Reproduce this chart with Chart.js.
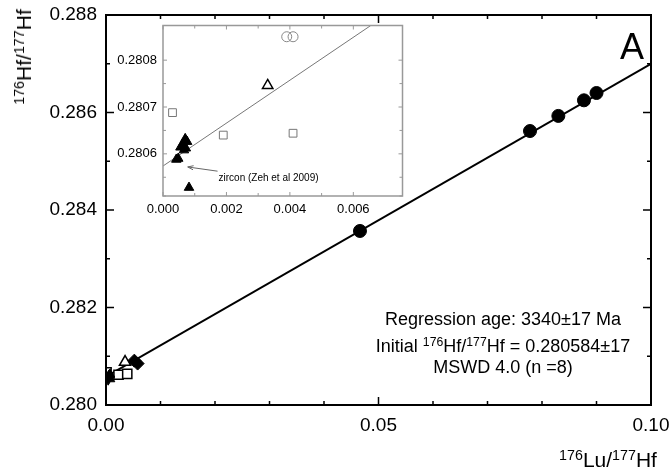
<!DOCTYPE html>
<html>
<head>
<meta charset="utf-8">
<script src="https://cdn.jsdelivr.net/npm/chart.js@4.4.1/dist/chart.umd.min.js"></script>
<style>
  html, body { margin: 0; padding: 0; background: #fff; }
  #wrap { position: relative; width: 669px; height: 475px; overflow: hidden;
          font-family: "Liberation Sans", Arial, sans-serif; color: #000; }
  #main { position: absolute; left: 0; top: 0; }
  #inset { position: absolute; left: 110px; top: 18px; }
  .lbl { position: absolute; white-space: nowrap; transform: translate(-50%, -50%); }
  .sup { position: relative; top: -0.5em; font-size: 0.68em; }
</style>
</head>
<body>
<div id="wrap">
  <canvas id="main" width="669" height="475"></canvas>
  <canvas id="inset" width="300" height="210"></canvas>

  <div class="lbl" style="left:24px; top:57px; font-size:21px; transform:translate(-50%,-50%) rotate(-90deg);"><span class="sup">176</span>Hf/<span class="sup">177</span>Hf</div>
  <div class="lbl" style="left:608px; top:460px; font-size:21px;"><span class="sup">176</span>Lu/<span class="sup">177</span>Hf</div>
  <div class="lbl" style="left:632px; top:47px; font-size:36px;">A</div>

  <div class="lbl" style="left:503px; top:319px; font-size:18px;">Regression age: 3340±17 Ma</div>
  <div class="lbl" style="left:503px; top:346px; font-size:18px;">Initial <span class="sup">176</span>Hf/<span class="sup">177</span>Hf = 0.280584±17</div>
  <div class="lbl" style="left:503px; top:367px; font-size:18px;">MSWD 4.0 (n =8)</div>
</div>

<script>
// ---- main panel (176Lu/177Hf vs 176Hf/177Hf) ----
const circleLu = [0.0466, 0.0778, 0.0830, 0.0877, 0.0900];
const circleHf = [0.28357, 0.28562, 0.28593, 0.28625, 0.28640];
const diamondLu = [0.0052, 0.0058];
const diamondHf = [0.28091, 0.28085];
const openTriLu = [0.0035];
const openTriHf = [0.28088];
const openSqLu = [0.0001, 0.0023, 0.0039];
const openSqHf = [0.28067, 0.28062, 0.28064];
const downTriLu = [0.0004];
const downTriHf = [0.28054];
const regLu = [0, 0.1];
const regHf = [0.280584, 0.28700];

// ---- inset (zoom on the low Lu/Hf end) ----
const zirconLu = [0.00042, 0.00048, 0.00055, 0.00062, 0.00066, 0.00070, 0.00072, 0.00076, 0.00082];
const zirconHf = [0.280588, 0.280590, 0.280614, 0.280621, 0.280608, 0.280632, 0.280612, 0.280626, 0.280528];
const insetSqLu = [0.0003, 0.0019, 0.0041];
const insetSqHf = [0.280688, 0.280640, 0.280644];
const insetTriLu = [0.0033];
const insetTriHf = [0.280746];
const insetCircLu = [0.0039, 0.0041];
const insetCircHf = [0.280850, 0.280850];
const insetLineLu = [0, 0.00655];
const insetLineHf = [0.280574, 0.280874];

const zirconNote = 'zircon (Zeh et al 2009)';
const notePos = { x: 0.00175, y: 0.280547 };
const arrowFrom = { x: 0.00172, y: 0.280563 };
const arrowTo = { x: 0.00078, y: 0.280572 };

const pts = (xs, ys) => xs.map((x, i) => ({ x, y: ys[i] }));
const isMajor = (v, step) => Math.abs(v / step - Math.round(v / step)) < 1e-6;

Chart.defaults.font.family = '"Liberation Sans", Arial, sans-serif';
Chart.defaults.color = '#000';

// frame + tick marks pointing into the plot on all four sides
const inwardTicks = {
  id: 'inwardTicks',
  afterDraw(chart, args, opts) {
    const { ctx, chartArea: a, scales: { x, y } } = chart;
    ctx.save();
    ctx.strokeStyle = opts.color;
    ctx.lineWidth = opts.width;
    ctx.strokeRect(a.left, a.top, a.right - a.left, a.bottom - a.top);
    ctx.lineWidth = opts.tickWidth;
    ctx.beginPath();
    x.ticks.forEach(t => {
      const px = x.getPixelForValue(t.value);
      const len = t.label !== '' ? opts.major : opts.minor;
      ctx.moveTo(px, a.bottom); ctx.lineTo(px, a.bottom - len);
      ctx.moveTo(px, a.top); ctx.lineTo(px, a.top + len);
    });
    y.ticks.forEach(t => {
      const py = y.getPixelForValue(t.value);
      const len = t.label !== '' ? opts.major : opts.minor;
      ctx.moveTo(a.left, py); ctx.lineTo(a.left + len, py);
      ctx.moveTo(a.right, py); ctx.lineTo(a.right - len, py);
    });
    ctx.stroke();
    ctx.restore();
  }
};

const zirconLabel = {
  id: 'zirconLabel',
  afterDatasetsDraw(chart) {
    const { ctx, scales: { x, y } } = chart;
    const x1 = x.getPixelForValue(arrowFrom.x), y1 = y.getPixelForValue(arrowFrom.y);
    const x2 = x.getPixelForValue(arrowTo.x), y2 = y.getPixelForValue(arrowTo.y);
    ctx.save();
    ctx.strokeStyle = '#666';
    ctx.lineWidth = 1;
    ctx.beginPath();
    ctx.moveTo(x1, y1); ctx.lineTo(x2, y2);
    const ang = Math.atan2(y1 - y2, x1 - x2);
    ctx.moveTo(x2 + 6 * Math.cos(ang - 0.35), y2 + 6 * Math.sin(ang - 0.35));
    ctx.lineTo(x2, y2);
    ctx.lineTo(x2 + 6 * Math.cos(ang + 0.35), y2 + 6 * Math.sin(ang + 0.35));
    ctx.stroke();
    ctx.fillStyle = '#000';
    ctx.font = '10px "Liberation Sans", Arial, sans-serif';
    ctx.textBaseline = 'middle';
    ctx.fillText(zirconNote, x.getPixelForValue(notePos.x), y.getPixelForValue(notePos.y));
    ctx.restore();
  }
};

new Chart(document.getElementById('main'), {
  type: 'scatter',
  data: {
    datasets: [
      { data: pts(circleLu, circleHf), pointStyle: 'circle', pointRadius: 6.5, backgroundColor: '#000', borderColor: '#000' },
      { data: pts(diamondLu, diamondHf), pointStyle: 'rectRot', pointRadius: 6.5, backgroundColor: '#000', borderColor: '#000' },
      { data: pts(zirconLu, zirconHf), pointStyle: 'triangle', pointRadius: 5, backgroundColor: '#000', borderColor: '#000' },
      { data: pts(downTriLu, downTriHf), pointStyle: 'triangle', rotation: 180, pointRadius: 6.5, backgroundColor: '#000', borderColor: '#000' },
      { data: pts(openTriLu, openTriHf), pointStyle: 'triangle', pointRadius: 6.5, backgroundColor: '#fff', borderColor: '#000', borderWidth: 1.5 },
      { data: pts(openSqLu, openSqHf), pointStyle: 'rect', pointRadius: 6.5, backgroundColor: '#fff', borderColor: '#000', borderWidth: 1.5 },
      { data: pts(regLu, regHf), showLine: true, borderColor: '#000', borderWidth: 2, pointRadius: 0 }
    ]
  },
  options: {
    responsive: false,
    animation: false,
    layout: { padding: { left: 0, top: 15, right: 18, bottom: 0 } },
    plugins: {
      legend: { display: false },
      tooltip: { enabled: false },
      inwardTicks: { color: '#000', width: 2, tickWidth: 1.5, major: 8, minor: 4 }
    },
    scales: {
      x: {
        type: 'linear', min: 0, max: 0.1,
        grid: { display: false, drawTicks: false }, border: { display: false },
        ticks: { stepSize: 0.01, autoSkip: false, maxRotation: 0, padding: 9, font: { size: 19 },
                 callback: v => isMajor(v, 0.05) ? v.toFixed(2) : '' },
        afterFit: s => { s.height = 70; s.paddingLeft = 0; s.paddingRight = 0; }
      },
      y: {
        type: 'linear', min: 0.280, max: 0.288,
        grid: { display: false, drawTicks: false }, border: { display: false },
        ticks: { stepSize: 0.001, autoSkip: false, padding: 9, font: { size: 19 },
                 callback: v => isMajor(v, 0.002) ? v.toFixed(3) : '' },
        afterFit: s => { s.width = 106; s.paddingTop = 0; s.paddingBottom = 0; }
      }
    }
  },
  plugins: [inwardTicks]
});

new Chart(document.getElementById('inset'), {
  type: 'scatter',
  data: {
    datasets: [
      { data: pts(zirconLu, zirconHf), pointStyle: 'triangle', pointRadius: 5.5, backgroundColor: '#000', borderColor: '#000' },
      { data: pts(insetTriLu, insetTriHf), pointStyle: 'triangle', pointRadius: 6, backgroundColor: '#fff', borderColor: '#000', borderWidth: 1.5 },
      { data: pts(insetSqLu, insetSqHf), pointStyle: 'rect', pointRadius: 5.5, backgroundColor: '#fff', borderColor: '#777', borderWidth: 1 },
      { data: pts(insetCircLu, insetCircHf), pointStyle: 'circle', pointRadius: 5, backgroundColor: 'rgba(255,255,255,0)', borderColor: '#888', borderWidth: 1 },
      { data: pts(insetLineLu, insetLineHf), showLine: true, borderColor: '#777', borderWidth: 1, pointRadius: 0 }
    ]
  },
  options: {
    responsive: false,
    animation: false,
    layout: { padding: { left: 0, top: 5, right: 6.5, bottom: 0 } },
    plugins: {
      legend: { display: false },
      tooltip: { enabled: false },
      inwardTicks: { color: '#999', width: 1.5, tickWidth: 1, major: 4, minor: 3 }
    },
    scales: {
      x: {
        type: 'linear', min: 0, max: 0.00755,
        grid: { display: false, drawTicks: false }, border: { display: false },
        ticks: { stepSize: 0.001, autoSkip: false, maxRotation: 0, padding: 6, font: { size: 13 },
                 callback: v => isMajor(v, 0.002) ? v.toFixed(3) : '' },
        afterFit: s => { s.height = 32; s.paddingLeft = 0; s.paddingRight = 0; }
      },
      y: {
        type: 'linear', min: 0.28051, max: 0.280874,
        grid: { display: false, drawTicks: false }, border: { display: false },
        ticks: { stepSize: 0.00005, autoSkip: false, padding: 6, font: { size: 13 },
                 callback: v => isMajor(v, 0.0001) ? v.toFixed(4) : '' },
        afterFit: s => { s.width = 53; s.paddingTop = 0; s.paddingBottom = 0; }
      }
    }
  },
  plugins: [inwardTicks, zirconLabel]
});
</script>
</body>
</html>
